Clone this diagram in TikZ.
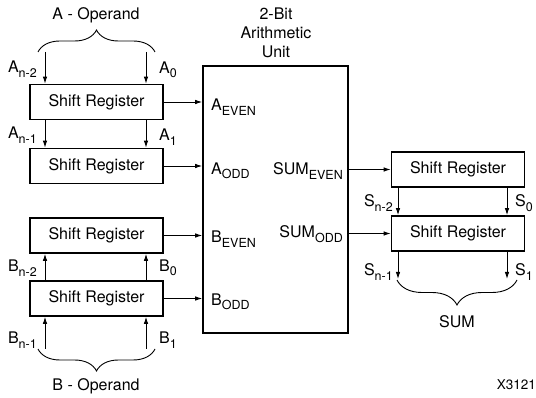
\documentclass[tikz,border=0pt]{standalone}
\usepackage{fontspec}
\setmainfont{TeX Gyre Heros}
\usetikzlibrary{arrows.meta,decorations.pathreplacing}
\newcommand\sbs[1]{\raisebox{-4.5pt}{\fontsize{12.5}{13}\selectfont #1}}
\begin{document}
\begin{tikzpicture}[x=1pt,y=-1pt,
  sr/.style={draw,line width=1.7pt,minimum width=133pt,minimum height=35pt,inner sep=0pt,font=\fontsize{16}{17}\selectfont},
  arr/.style={line width=0.9pt,-{Latex[length=7pt,width=4.5pt]}},
  lab/.style={inner sep=0pt,font=\fontsize{16}{19}\selectfont},
  brc/.style={line width=0.9pt,decorate,decoration={brace,amplitude=22pt,aspect=0.5}}]
\useasboundingbox (0,0) rectangle (536,398);
% left registers
\node[sr] (sr1) at (96.5,102) {Shift Register};
\node[sr] (sr2) at (96.5,166) {Shift Register};
\node[sr] (sr3) at (96.5,235.5) {Shift Register};
\node[sr] (sr4) at (96.5,298.5) {Shift Register};
% arithmetic unit
\node[draw,line width=1.7pt,minimum width=145pt,minimum height=267pt,inner sep=0pt] (au) at (275.5,199.5) {};
\node[lab,align=center] (autitle) at (276,33) {2-Bit\\Arithmetic\\Unit};
% right registers
\node[sr] (rs1) at (458,169.5) {Shift Register};
\node[sr] (rs2) at (458,233.5) {Shift Register};
% A operand
\node[lab] (aop) at (96,15) {A - Operand};
\coordinate (at1) at (45,52);
\coordinate (at2) at (146,52);
\draw[brc] (38,52) -- (155,52);
\draw[arr] (at1) -- (at1 |- sr1.north);
\draw[arr] (at2) -- (at2 |- sr1.north);
\node[lab,anchor=east] (lan2) at (37,69) {A\sbs{n-2}};
\node[lab,anchor=west] (la0) at (159,70) {A\sbs{0}};
\draw[arr] (at1 |- sr1.south) -- (at1 |- sr2.north);
\draw[arr] (at2 |- sr1.south) -- (at2 |- sr2.north);
\node[lab,anchor=east] (lan1) at (37,135) {A\sbs{n-1}};
\node[lab,anchor=west] (la1) at (159,137) {A\sbs{1}};
% B operand
\coordinate (bt1) at (45,349);
\coordinate (bt2) at (146,349);
\draw[arr] (bt1 |- sr4.north) -- (bt1 |- sr3.south);
\draw[arr] (bt2 |- sr4.north) -- (bt2 |- sr3.south);
\node[lab,anchor=east] (lbn2) at (37,268) {B\sbs{n-2}};
\node[lab,anchor=west] (lb0) at (159,268) {B\sbs{0}};
\draw[arr] (bt1) -- (bt1 |- sr4.south);
\draw[arr] (bt2) -- (bt2 |- sr4.south);
\node[lab,anchor=east] (lbn1) at (37,340) {B\sbs{n-1}};
\node[lab,anchor=west] (lb1) at (159,340) {B\sbs{1}};
\draw[brc,decoration={mirror}] (38,349) -- (155,349);
\node[lab] (bop) at (96,386) {B - Operand};
% inputs to AU
\draw[arr] (sr1.east) -- (sr1.east -| au.west);
\draw[arr] (sr2.east) -- (sr2.east -| au.west);
\draw[arr] (sr3.east) -- (sr3.east -| au.west);
\draw[arr] (sr4.east) -- (sr4.east -| au.west);
\node[lab,anchor=west] (aeven) at (211,107) {A\sbs{EVEN}};
\node[lab,anchor=west] (aodd) at (211,171) {A\sbs{ODD}};
\node[lab,anchor=west] (beven) at (211,239) {B\sbs{EVEN}};
\node[lab,anchor=west] (bodd) at (211,302) {B\sbs{ODD}};
\node[lab,anchor=east] (sume) at (343,171) {SUM\sbs{EVEN}};
\node[lab,anchor=east] (sumo) at (343,234) {SUM\sbs{ODD}};
% outputs
\coordinate (o1) at (348,169.5);
\coordinate (o2) at (348,233.5);
\draw[arr] (o1) -- (rs1.west);
\draw[arr] (o2) -- (rs2.west);
\coordinate (st1) at (398,279);
\coordinate (st2) at (507,279);
\draw[arr] (st1 |- rs1.south) -- (st1 |- rs2.north);
\draw[arr] (st2 |- rs1.south) -- (st2 |- rs2.north);
\node[lab,anchor=east] (lsn2) at (393,203) {S\sbs{n-2}};
\node[lab,anchor=west] (ls0) at (515,203) {S\sbs{0}};
\draw[arr] (st1 |- rs2.south) -- (st1);
\draw[arr] (st2 |- rs2.south) -- (st2);
\node[lab,anchor=east] (lsn1) at (393,272) {S\sbs{n-1}};
\node[lab,anchor=west] (ls1) at (515,272) {S\sbs{1}};
\draw[brc,decoration={mirror,amplitude=25pt}] (397,280) -- (517,280);
\node[lab] (sumlab) at (457,322) {SUM};
\node[lab,anchor=east,font=\fontsize{13.5}{14}\selectfont] (xid) at (536,385) {X3121};
\end{tikzpicture}
\end{document}
